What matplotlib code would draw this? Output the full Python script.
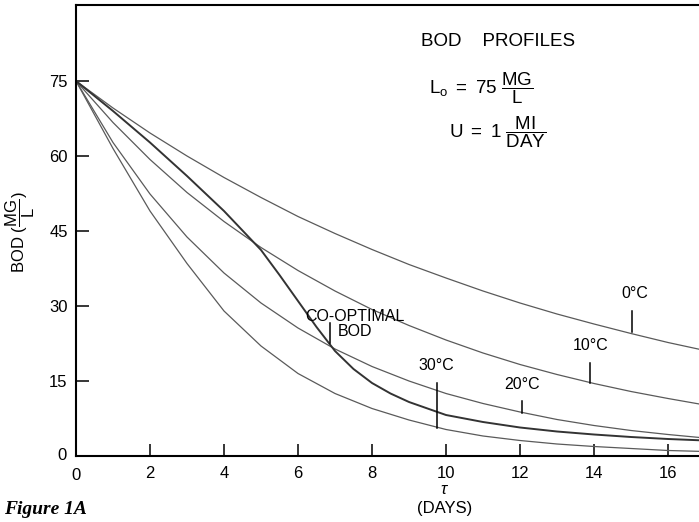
import matplotlib
matplotlib.use("Agg")
import matplotlib.pyplot as plt

plt.rcParams['font.family'] = ['Liberation Sans', 'DejaVu Sans']
plt.rcParams['mathtext.fontset'] = 'custom'
plt.rcParams['mathtext.rm'] = 'Liberation Sans'
plt.rcParams['mathtext.it'] = 'Liberation Sans:italic'

# ---- data ----
days = [0, 1, 2, 3, 4, 5, 6, 7, 8, 9, 10, 11, 12, 13, 14, 15, 16, 17]
bod_0c = [75, 69.6, 64.6, 60.0, 55.7, 51.7, 47.9, 44.5, 41.3, 38.3, 35.6, 33.0, 30.6, 28.4, 26.4, 24.5, 22.7, 21.1]
bod_10c = [75, 66.7, 59.3, 52.7, 46.9, 41.7, 37.1, 33.0, 29.3, 26.1, 23.2, 20.6, 18.3, 16.3, 14.5, 12.9, 11.5, 10.2]
bod_20c = [75, 62.7, 52.4, 43.8, 36.6, 30.6, 25.6, 21.4, 17.9, 15.0, 12.5, 10.5, 8.8, 7.3, 6.1, 5.1, 4.3, 3.6]
bod_30c = [75, 61.5, 49.0, 38.5, 29.0, 22.0, 16.5, 12.5, 9.5, 7.2, 5.3, 4.0, 3.1, 2.4, 1.9, 1.5, 1.1, 0.9]
coopt_days = [0, 1, 2, 3, 4, 5, 5.5, 6, 6.5, 7, 7.5, 8, 8.5, 9, 10, 11, 12, 13, 14, 15, 16, 17]
bod_coopt = [75, 69, 62.7, 56, 49, 41.2, 36.2, 31, 25.8, 21, 17.4, 14.6, 12.5, 10.8, 8.2, 6.8, 5.7, 4.9, 4.3, 3.8, 3.4, 3.1]

x_ticks = [2, 4, 6, 8, 10, 12, 14, 16]
x_ticklabels = ['2', '4', '6', '8', '10', '12', '14', '16']
y_ticks = [15, 30, 45, 60, 75]
y_ticklabels = ['15', '30', '45', '60', '75']

# label annotations: (text, label x, label y, tick x, tick y0, tick y1)
curve_labels = [
    ('0°C', 15.1, 31.0, 15.03, 24.9, 29.0),
    ('10°C', 13.9, 20.5, 13.9, 14.6, 18.6),
    ('20°C', 12.05, 12.8, 12.05, 8.6, 11.0),
    ('30°C', 9.75, 16.6, 9.77, 5.7, 14.6),
]

fig = plt.figure(figsize=(6.99, 5.22), dpi=100)
ax = fig.add_axes([76/699, 66/522, 623/699, 451/522])
ax.set_xlim(0, 623/37)
ax.set_ylim(0, 451/5)

lc = '#5a5a5a'
ax.plot(days, bod_0c, color=lc, lw=0.9)
ax.plot(days, bod_10c, color=lc, lw=0.9)
ax.plot(days, bod_20c, color=lc, lw=0.9)
ax.plot(days, bod_30c, color=lc, lw=0.9)
ax.plot(coopt_days, bod_coopt, color='#333333', lw=1.4)

for txt, lx, ly, tx, ty0, ty1 in curve_labels:
    ax.text(lx, ly, txt, ha='center', va='bottom', fontsize=11.5)
    ax.plot([tx, tx], [ty0, ty1], color='black', lw=1.1)

ax.text(7.55, 23.4, 'CO-OPTIMAL\nBOD', ha='center', va='bottom', fontsize=11.5,
        linespacing=1.0, multialignment='center')
ax.plot([6.86, 6.86], [22.6, 26.6], color='black', lw=1.1)

ax.text(421/699, 1 - 42/522, 'BOD    PROFILES', transform=fig.transFigure, ha='left', va='center', fontsize=13.5)
ax.text(429/699, 1 - 88/522, r'$\mathrm{L_o}\ =\ 75\ \dfrac{\mathrm{MG}}{\mathrm{L}}$', transform=fig.transFigure,
        ha='left', va='center', fontsize=13.5)
ax.text(449/699, 1 - 132/522, r'$\mathrm{U}\ =\ 1\ \dfrac{\mathrm{MI}}{\mathrm{DAY}}$', transform=fig.transFigure,
        ha='left', va='center', fontsize=13.5)

for s in ['left', 'bottom', 'top']:
    ax.spines[s].set_linewidth(1.5)
ax.spines['right'].set_visible(False)

ax.set_xticks(x_ticks)
ax.set_xticklabels(x_ticklabels)
ax.set_yticks(y_ticks)
ax.set_yticklabels(y_ticklabels)
ax.tick_params(direction='in', length=9, width=1.1, labelsize=12)
ax.tick_params(axis='x', pad=7)
ax.tick_params(axis='y', pad=6)
ax.tick_params(top=False, right=False)
# 0 labels at the corner
ax.text(-0.25, 0, '0', ha='right', va='center', fontsize=12)
ax.text(0, -2.3, '0', ha='center', va='top', fontsize=12)

fig.text(445/699, 1 - 490/522, r'$\tau$', ha='center', va='center', fontsize=12)
fig.text(445/699, 1 - 508/522, '(DAYS)', ha='center', va='center', fontsize=12)
fig.text(4/699, 1 - 232/522, r'BOD $(\dfrac{\mathrm{MG}}{\mathrm{L}})$', rotation=90,
         ha='left', va='center', fontsize=12)
fig.text(4/699, 1 - 501/522, 'Figure 1A', ha='left', va='top', fontsize=14,
         family='Liberation Serif', style='italic', weight='bold')

fig.savefig('out.png', dpi=100)
